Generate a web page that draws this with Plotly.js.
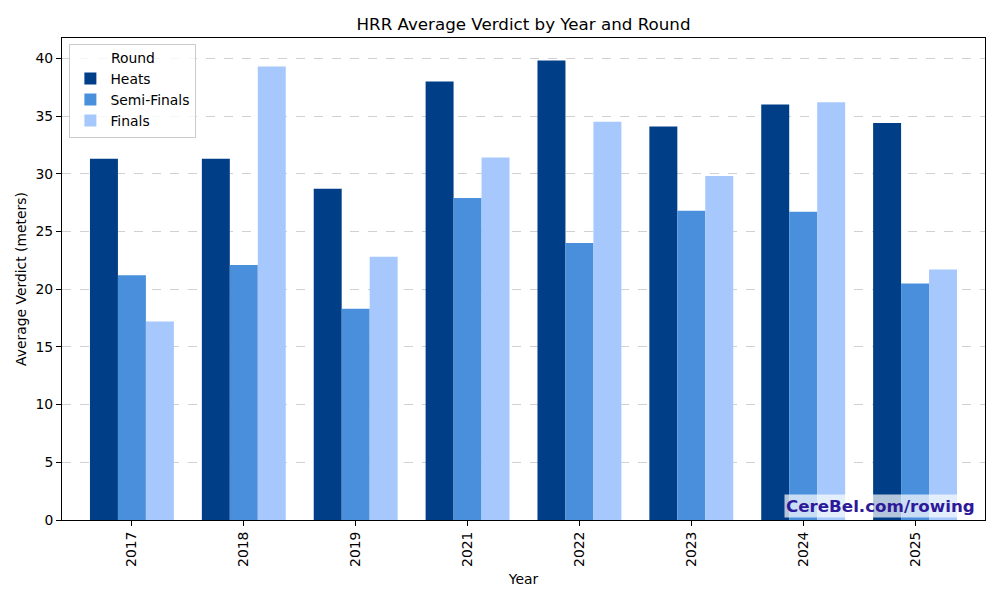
<!DOCTYPE html>
<html>
<head>
<meta charset="utf-8">
<script src="https://cdn.plot.ly/plotly-3.0.1.min.js"></script>
<style>html,body{margin:0;padding:0;background:#fff;}#chart{width:1000px;height:600px;}</style>
</head>
<body>
<div id="chart"></div>
<script>
const years = ["2017", "2018", "2019", "2021", "2022", "2023", "2024", "2025"];
const heats = [31.3, 31.3, 28.7, 38.0, 39.8, 34.1, 36.0, 34.4];
const semiFinals = [21.2, 22.1, 18.3, 27.9, 24.0, 26.8, 26.7, 20.5];
const finals = [17.2, 39.3, 22.8, 31.4, 34.5, 29.8, 36.2, 21.7];
const seriesNames = ["Heats", "Semi-Finals", "Finals"];
const colors = ["#003f88", "#4a8fdb", "#a6c8fc"];

const values = [heats, semiFinals, finals];
const traces = values.map((v, i) => ({
  type: 'bar',
  name: seriesNames[i],
  x: years,
  y: v,
  marker: {color: colors[i], line: {width: 0}},
  hoverinfo: 'x+y+name'
}));

const font = "DejaVu Sans, sans-serif";
const fs = 13.9;
const layout = {
  width: 1000, height: 600,
  margin: {l: 62, r: 15, t: 38, b: 80},
  paper_bgcolor: '#fff', plot_bgcolor: '#fff',
  font: {family: font, size: fs, color: '#000'},
  title: {text: 'HRR Average Verdict by Year and Round', font: {family: font, size: 16.7, color: '#000'}, xref: 'paper', x: 0.5, xanchor: 'center', yref: 'container', y: 0.96, yanchor: 'middle'},
  barmode: 'group', bargap: 0.25, bargroupgap: 0,
  xaxis: {
    type: 'category', range: [-0.625, 7.625],
    tickangle: -90, ticks: 'outside', ticklen: 5, tickcolor: '#000',
    showline: true, linecolor: '#000', linewidth: 1, mirror: true,
    showgrid: false, zeroline: false,
    tickfont: {family: font, size: fs, color: '#000'},
    title: {text: 'Year', font: {family: font, size: fs, color: '#000'}, standoff: 8}
  },
  yaxis: {
    range: [0, 41.76], dtick: 5,
    ticks: 'outside', ticklen: 5, tickcolor: '#000',
    showline: true, linecolor: '#000', linewidth: 1, mirror: true,
    showgrid: true, gridcolor: 'rgba(140,140,140,0.4)', griddash: 'dash', gridwidth: 1,
    zeroline: false, layer: 'above traces',
    tickfont: {family: font, size: fs, color: '#000'},
    title: {text: 'Average Verdict (meters)', font: {family: font, size: fs, color: '#000'}, standoff: 5}
  },
  legend: {
    x: 0.008, y: 0.988, xanchor: 'left', yanchor: 'top',
    bgcolor: 'rgba(255,255,255,0.8)', bordercolor: '#cccccc', borderwidth: 1,
    title: {text: 'Round', font: {family: font, size: fs, color: '#000'}, side: 'top center'},
    font: {family: font, size: fs, color: '#000'},
    traceorder: 'normal'
  },
  annotations: [{
    text: '<b>CereBel.com/rowing</b>',
    xref: 'paper', yref: 'paper', x: 0.9915, y: 0.004, xanchor: 'right', yanchor: 'bottom',
    showarrow: false, bgcolor: 'rgba(255,255,255,0.7)', borderpad: 1,
    font: {family: font, size: 16.7, color: '#2e1a99'}
  }]
};

Plotly.newPlot('chart', traces, layout, {displayModeBar: false, staticPlot: true});
</script>
</body>
</html>
